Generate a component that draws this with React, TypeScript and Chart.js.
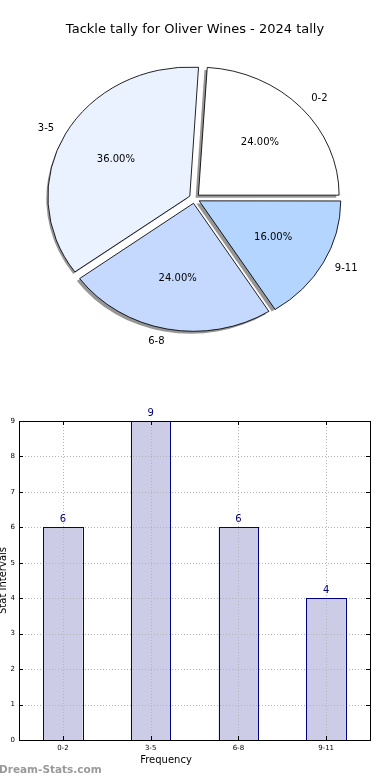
import React, { useEffect, useRef } from "react";
import { Chart, registerables } from "chart.js";

Chart.register(...registerables);

// ---- data ----
const chartTitle = "Tackle tally for Oliver Wines - 2024 tally";
const categories = ["0-2", "3-5", "6-8", "9-11"];
const counts = [6, 9, 6, 4];
const pieColors = ["#ffffff", "#eaf1ff", "#c5d9ff", "#b4d5ff"];
const yTickMax = 9;
const xAxisTitle = "Frequency";
const yAxisTitle = "Stat Intervals";
const watermark = "Dream-Stats.com";

const FONT = "'DejaVu Sans', sans-serif";
const PIE_RADIUS = 140.7;
const Y_RATIO = 128 / 140.7;
const EXPLODE = 21.4;

const total = counts.reduce((a, b) => a + b, 0);
// Chart.js draws clockwise; the reference runs counter-clockwise from 3 o'clock
const pieLabels = [...categories].reverse();
const pieValues = [...counts].reverse();
const pieBg = [...pieColors].reverse();

const piePlugin = {
  id: "pieDecor",
  beforeDatasetsDraw(chart: any) {
    const arcs = chart.getDatasetMeta(0).data as any[];
    const ctx = chart.ctx as CanvasRenderingContext2D;
    ctx.save();
    if (!arcs.length) return;
    const { x, y } = arcs[0];
    ctx.translate(x, y);
    ctx.scale(1, Y_RATIO);
    ctx.translate(-x, -y);
    ctx.fillStyle = "rgba(45,45,45,0.5)";
    arcs.forEach((a: any) => {
      const off = (a.options.offset || 0) / 4;
      const mid = (a.startAngle + a.endAngle) / 2;
      const cx = a.x + Math.cos(mid) * off - 2.8;
      const cy = a.y + Math.sin(mid) * off + 2.8;
      ctx.beginPath();
      ctx.moveTo(cx, cy);
      ctx.arc(cx, cy, a.outerRadius, a.startAngle, a.endAngle);
      ctx.closePath();
      ctx.fill();
    });
  },
  afterDatasetsDraw(chart: any) {
    chart.ctx.restore();
  },
  afterDraw(chart: any) {
    const ctx = chart.ctx as CanvasRenderingContext2D;
    const arcs = chart.getDatasetMeta(0).data as any[];
    ctx.save();
    ctx.fillStyle = "#000";
    ctx.font = `13px ${FONT}`;
    ctx.textAlign = "center";
    ctx.textBaseline = "middle";
    ctx.fillText(chartTitle, 195, 30);
    ctx.font = `10px ${FONT}`;
    arcs.forEach((a: any, i: number) => {
      const off = (a.options.offset || 0) / 4;
      const mid = (a.startAngle + a.endAngle) / 2;
      const dx = Math.cos(mid);
      const dy = Math.sin(mid);
      const r = a.outerRadius;
      const lx = a.x + dx * (off + 1.1 * r);
      const ly = a.y + dy * (off + 1.1 * r) * Y_RATIO;
      ctx.textAlign = dx > 0 ? "left" : "right";
      ctx.textBaseline = "middle";
      ctx.fillText(pieLabels[i], lx, ly);
      const px = a.x + dx * (off + 0.6 * r);
      const py = a.y + dy * (off + 0.6 * r) * Y_RATIO;
      ctx.textAlign = "center";
      const pct = ((pieValues[i] / total) * 100).toFixed(2) + "%";
      ctx.fillText(pct, px, py);
    });
    ctx.restore();
  },
};

const barPlugin = {
  id: "barDecor",
  afterDatasetsDraw(chart: any) {
    const ctx = chart.ctx as CanvasRenderingContext2D;
    const { left, right, top, bottom } = chart.chartArea;
    const xs = chart.scales.x;
    const ys = chart.scales.y;
    const bars = chart.getDatasetMeta(0).data as any[];
    ctx.save();
    ctx.lineWidth = 1;
    // dotted grid on top of bar fills
    ctx.strokeStyle = "#b4b4b4";
    ctx.setLineDash([1, 2]);
    ys.ticks.forEach((t: any) => {
      const py = Math.round(ys.getPixelForValue(t.value)) + 0.5;
      ctx.beginPath();
      ctx.moveTo(left, py);
      ctx.lineTo(right, py);
      ctx.stroke();
    });
    categories.forEach((_, i) => {
      const px = Math.round(xs.getPixelForValue(i)) + 0.5;
      ctx.beginPath();
      ctx.moveTo(px, top);
      ctx.lineTo(px, bottom);
      ctx.stroke();
    });
    ctx.setLineDash([]);
    // crisp bar outlines
    ctx.strokeStyle = "#000080";
    bars.forEach((b: any) => {
      const l = Math.round(b.x - b.width / 2);
      const r = Math.round(b.x + b.width / 2);
      const t = Math.round(b.y);
      const bt = Math.round(b.base);
      ctx.strokeRect(l + 0.5, t + 0.5, r - l, bt - t);
    });
    // inside ticks
    ctx.strokeStyle = "#000";
    ys.ticks.forEach((t: any) => {
      const py = Math.round(ys.getPixelForValue(t.value)) + 0.5;
      ctx.beginPath();
      ctx.moveTo(left, py);
      ctx.lineTo(left + 4, py);
      ctx.moveTo(right, py);
      ctx.lineTo(right - 4, py);
      ctx.stroke();
    });
    categories.forEach((_, i) => {
      const px = Math.round(xs.getPixelForValue(i)) + 0.5;
      ctx.beginPath();
      ctx.moveTo(px, bottom);
      ctx.lineTo(px, bottom - 4);
      ctx.moveTo(px, top);
      ctx.lineTo(px, top + 4);
      ctx.stroke();
    });
    // frame
    ctx.strokeRect(Math.round(left) + 0.5, Math.round(top) + 0.5, Math.round(right - left), Math.round(bottom - top));
    // value labels
    ctx.fillStyle = "#000080";
    ctx.font = `10px ${FONT}`;
    ctx.textAlign = "center";
    ctx.textBaseline = "bottom";
    bars.forEach((b: any, i: number) => {
      ctx.fillText(String(counts[i]), b.x, b.y - 3);
    });
    ctx.restore();
  },
  afterDraw(chart: any) {
    const ctx = chart.ctx as CanvasRenderingContext2D;
    const { top, bottom } = chart.chartArea;
    ctx.save();
    ctx.fillStyle = "#000";
    ctx.font = `10px ${FONT}`;
    ctx.textAlign = "center";
    ctx.textBaseline = "middle";
    ctx.fillText(xAxisTitle, 166, 360);
    ctx.save();
    ctx.translate(3, (top + bottom) / 2);
    ctx.rotate(-Math.PI / 2);
    ctx.fillText(yAxisTitle, 0, 0);
    ctx.restore();
    ctx.fillStyle = "#9a9a9a";
    ctx.font = `bold 10.5px ${FONT}`;
    ctx.textAlign = "left";
    ctx.fillText(watermark, -1, 370);
    ctx.restore();
  },
};

export default function App() {
  const pieRef = useRef<HTMLCanvasElement>(null);
  const barRef = useRef<HTMLCanvasElement>(null);

  useEffect(() => {
    const pie = new Chart(pieRef.current!, {
      type: "pie",
      data: {
        labels: pieLabels,
        datasets: [
          {
            data: pieValues,
            backgroundColor: pieBg,
            borderColor: "#000",
            borderWidth: 0.9,
            offset: EXPLODE,
            clip: false as any,
          } as any,
        ],
      },
      options: {
        responsive: false,
        animation: false,
        rotation: 90,
        radius: PIE_RADIUS,
        layout: { padding: { right: 1 } },
        plugins: { legend: { display: false }, tooltip: { enabled: false }, title: { display: false } },
      } as any,
      plugins: [piePlugin],
    });

    const bar = new Chart(barRef.current!, {
      type: "bar",
      data: {
        labels: categories,
        datasets: [
          {
            data: counts,
            backgroundColor: "#ccccE6",
            borderWidth: 0,
            barPercentage: 0.45,
            categoryPercentage: 1,
          } as any,
        ],
      },
      options: {
        responsive: false,
        animation: false,
        layout: { padding: { top: 21, right: 20, left: 0, bottom: 0 } },
        plugins: { legend: { display: false }, tooltip: { enabled: false } },
        scales: {
          x: {
            grid: { display: false, drawTicks: false },
            border: { display: false },
            ticks: { font: { family: FONT, size: 7 }, color: "#000", padding: 4, maxRotation: 0 },
            afterFit: (s: any) => {
              s.height = 40;
            },
          },
          y: {
            min: 0,
            max: yTickMax,
            grid: { display: false, drawTicks: false },
            border: { display: false },
            ticks: { stepSize: 1, font: { family: FONT, size: 7 }, color: "#000", padding: 4 },
            afterFit: (s: any) => {
              s.width = 19;
            },
          },
        },
      } as any,
      plugins: [barPlugin],
    });

    return () => {
      pie.destroy();
      bar.destroy();
    };
  }, []);

  return (
    <div style={{ position: "fixed", left: 0, top: 0, width: 390, height: 780, background: "#fff", overflow: "hidden" }}>
      <canvas ref={pieRef} width={390} height={397} style={{ position: "absolute", left: 0, top: 0, display: "block" }} />
      <canvas ref={barRef} width={390} height={380} style={{ position: "absolute", left: 0, top: 400, display: "block" }} />
    </div>
  );
}
